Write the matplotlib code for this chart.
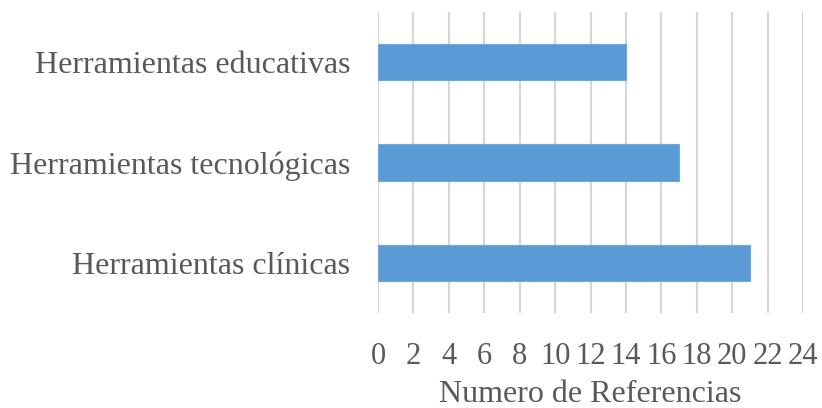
import matplotlib
matplotlib.use("Agg")
import matplotlib.pyplot as plt

categories = ["Herramientas clínicas", "Herramientas tecnológicas", "Herramientas educativas"]
values = [21, 17, 14]
xticks = list(range(0, 25, 2))

plt.rcParams['font.family'] = ['Liberation Serif', 'DejaVu Serif']
text_color = "#595959"

fig = plt.figure(figsize=(8.22, 4.08), dpi=100)
ax = fig.add_axes([378/822, 1 - 313/408, (803-378)/822, (313-12)/408])

ax.barh(range(len(categories)), values, height=0.36, color="#5B9BD5",
        edgecolor="#6FA8DC", linewidth=0.8, zorder=3)

ax.set_xlim(0, 24)
ax.set_ylim(-0.5, len(categories) - 0.5)
ax.set_xticks(xticks)
ax.set_xticklabels([str(t) for t in xticks])
ax.set_yticks(range(len(categories)))
ax.set_yticklabels(categories)

ax.grid(axis='x', color="#D6D6D6", linewidth=1.6, zorder=0)
ax.grid(axis='y', visible=False)
for s in ax.spines.values():
    s.set_visible(False)

ax.tick_params(axis='x', length=0, pad=21, labelsize=22, labelcolor=text_color)
ax.tick_params(axis='y', length=0, pad=20, labelsize=23, labelcolor=text_color)
ax.set_xlabel("Numero de Referencias", fontsize=23, color=text_color, labelpad=6)

fig.savefig("out.png", dpi=100)
